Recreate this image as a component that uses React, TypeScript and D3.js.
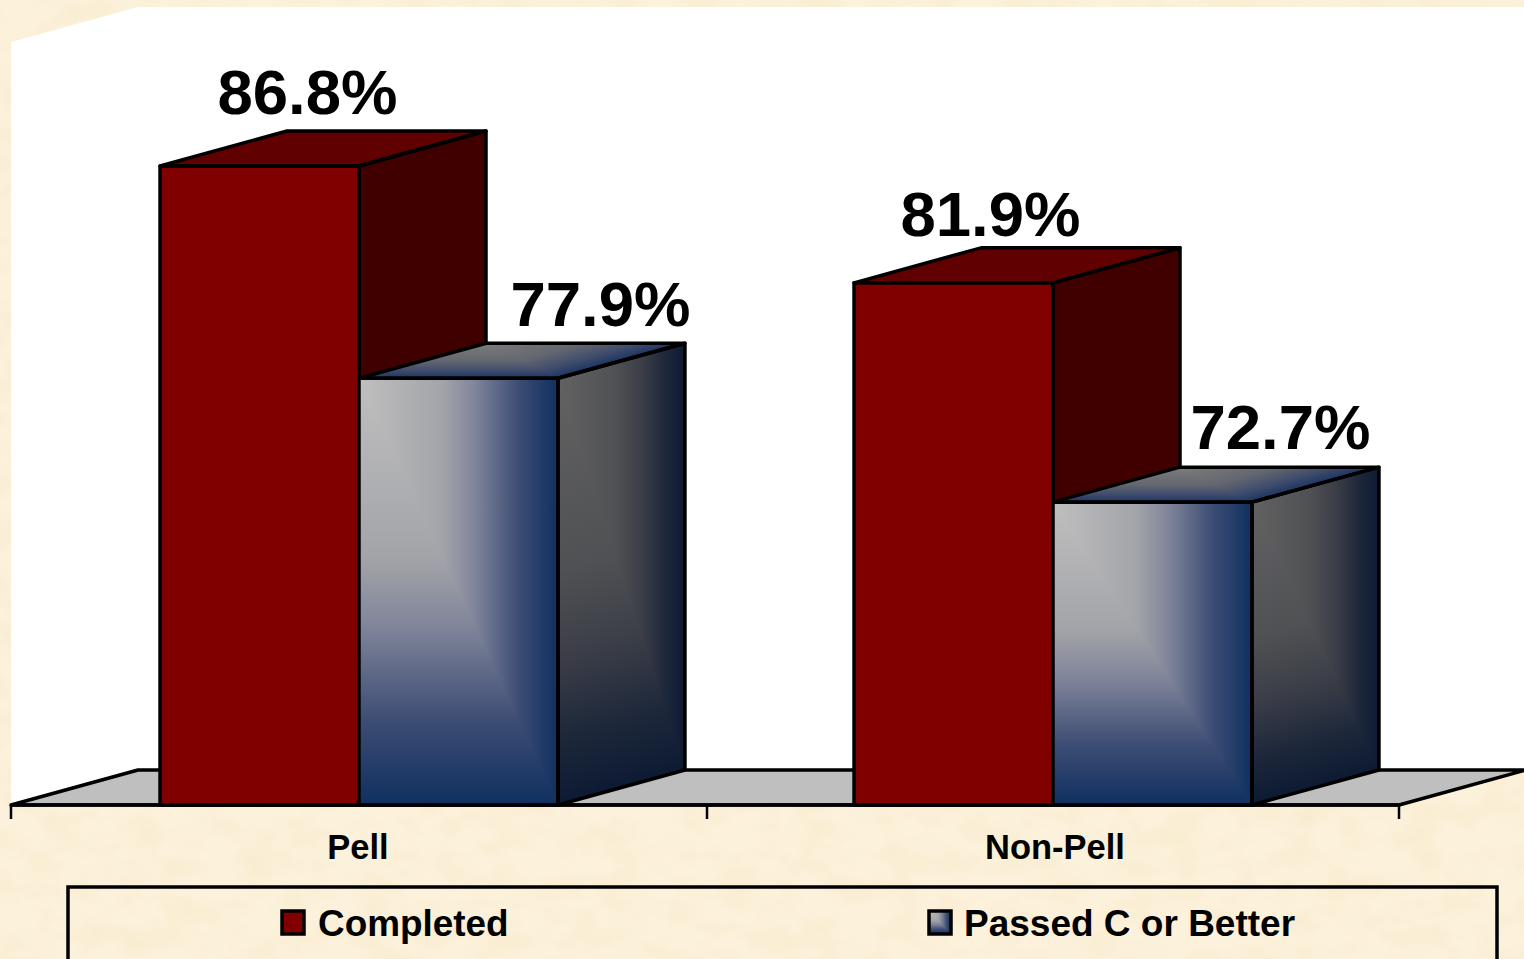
import * as d3 from 'd3';

const categories = ['Pell', 'Non-Pell'];
const seriesNames = ['Completed', 'Passed C or Better'];
const completed = [86.8, 81.9];
const passed = [77.9, 72.7];
const seriesValues = [completed, passed];

const width = 1524;
const height = 959;
const depthX = 127;
const depthY = -35;
const font = "'Liberation Sans', Arial, sans-serif";

// data labels were hand placed in the original, so they sit off the bar centre
const labelShift = [
  [48, 142],
  [37, 128],
];
const labelGap = [
  [52, 52],
  [47, 53],
];
const categoryShift = [-1, 2];

const x0 = d3.scaleBand<string>().domain(categories).range([12, 1400]);
const x1 = d3
  .scaleBand<string>()
  .domain(seriesNames)
  .range([0, x0.bandwidth()])
  .paddingOuter(0.744)
  .paddingInner(0);
const y = d3.scaleLinear().domain([60, 92]).range([805, 42]);
const tickX = d3.scaleLinear().domain([0, 1, 2]).range([11, 707, 1399]);

const baseY = y(60);
const topY = y(92);
const barWidth = x1.bandwidth();

const blueStops = [
  [0, '#bfbfbf'],
  [0.42, '#a3a4a9'],
  [0.58, '#80859a'],
  [0.8, '#3d4d74'],
  [1, '#0f3060'],
];
const sideStops = [
  [0, '#626262'],
  [0.45, '#505154'],
  [0.65, '#3c3f48'],
  [0.85, '#1d273a'],
  [1, '#0c1a33'],
];
const topStops = [
  [0, '#7c7c7c'],
  [0.5, '#646770'],
  [0.8, '#3c4a6c'],
  [1, '#1c3460'],
];

function Gradient({ id, stops, vertical }: { id: string; stops: (string | number)[][]; vertical: boolean }) {
  return (
    <linearGradient id={id} x1="0" y1="0" x2={vertical ? 0 : 1} y2={vertical ? 1 : 0}>
      {stops.map((s) => (
        <stop key={s[0]} offset={s[0]} stopColor={s[1] as string} />
      ))}
    </linearGradient>
  );
}

// unit square pushed through a matrix, so the fill's corner seam follows the face
function Face({ name, m }: { name: string; m: number[] }) {
  return (
    <g transform={`matrix(${m.join(' ')})`}>
      <rect width={1} height={1} fill={`url(#${name}-h)`} />
      <polygon points="0,0 1,1 0,1" fill={`url(#${name}-v)`} />
    </g>
  );
}

function Bar({ x, top, series }: { x: number; top: number; series: number }) {
  const h = baseY - top;
  const frontPts = [[x, top], [x + barWidth, top], [x + barWidth, baseY], [x, baseY]];
  const topPts = [[x, top], [x + depthX, top + depthY], [x + barWidth + depthX, top + depthY], [x + barWidth, top]];
  const sidePts = [[x + barWidth, top], [x + barWidth + depthX, top + depthY], [x + barWidth + depthX, baseY + depthY], [x + barWidth, baseY]];
  const line = d3.line();
  const outline = (pts: number[][]) => `${line(pts as [number, number][])}Z`;
  return (
    <g>
      {series === 0 ? (
        <>
          <path d={outline(frontPts)} fill="#800000" />
          <path d={outline(topPts)} fill="#600000" />
          <path d={outline(sidePts)} fill="#400000" />
        </>
      ) : (
        <>
          <Face name="blue" m={[barWidth, 0, 0, h, x, top]} />
          <Face name="top" m={[barWidth, 0, -depthX, -depthY, x + depthX, top + depthY]} />
          <Face name="side" m={[depthX, depthY, 0, h, x + barWidth, top]} />
        </>
      )}
      {[frontPts, topPts, sidePts].map((pts, i) => (
        <path key={i} d={outline(pts)} fill="none" stroke="#000" strokeWidth={3.5} strokeLinejoin="round" />
      ))}
    </g>
  );
}

export default function App() {
  const left = tickX(0);
  const right = tickX(2);

  return (
    <svg
      width={width}
      height={height}
      viewBox={`0 0 ${width} ${height}`}
      style={{ position: 'absolute', left: 0, top: 0, display: 'block' }}
    >
      <defs>
        <Gradient id="blue-h" stops={blueStops} vertical={false} />
        <Gradient id="blue-v" stops={blueStops} vertical={true} />
        <Gradient id="side-h" stops={sideStops} vertical={false} />
        <Gradient id="side-v" stops={sideStops} vertical={true} />
        <Gradient id="top-h" stops={topStops} vertical={false} />
        <Gradient id="top-v" stops={topStops} vertical={true} />
        <filter id="parchment" x="0" y="0" width="100%" height="100%">
          <feTurbulence type="fractalNoise" baseFrequency="0.025 0.04" numOctaves={3} seed={4} />
          <feColorMatrix
            type="matrix"
            values="0 0 0 0 0.93  0 0 0 0 0.82  0 0 0 0 0.6  0 0 0 1.3 -0.48"
          />
        </filter>
      </defs>

      <rect width={width} height={height} fill="#fcf1db" />
      <rect width={width} height={height} filter="url(#parchment)" />

      {/* walls */}
      <polygon
        points={`${left},${topY} ${left + depthX},${topY + depthY} ${width},${topY + depthY} ${width},${baseY + depthY} ${left + depthX},${baseY + depthY} ${left},${baseY}`}
        fill="#fff"
      />
      <polygon
        points={`${left},${baseY} ${left + depthX},${baseY + depthY} ${right + depthX},${baseY + depthY} ${right},${baseY}`}
        fill="#bfbfbf"
        stroke="#000"
        strokeWidth={3.5}
        strokeLinejoin="round"
      />

      {categories.map((c, i) =>
        seriesNames.map((s, j) => (
          <Bar key={s} x={(x0(c) ?? 0) + (x1(s) ?? 0)} top={y(seriesValues[j][i])} series={j} />
        ))
      )}

      {/* x axis */}
      <line x1={left} x2={right} y1={baseY} y2={baseY} stroke="#000" strokeWidth={3.5} />
      {[0, 1, 2].map((t) => (
        <line key={t} x1={tickX(t)} x2={tickX(t)} y1={baseY} y2={baseY + 14} stroke="#000" strokeWidth={2.5} />
      ))}
      {categories.map((c, i) => (
        <text
          key={c}
          x={(tickX(i) + tickX(i + 1)) / 2 + categoryShift[i]}
          y={859}
          textAnchor="middle"
          fontFamily={font}
          fontWeight="bold"
          fontSize={34.5}
          fill="#000"
        >
          {c}
        </text>
      ))}

      {/* value labels */}
      {categories.map((c, i) =>
        seriesNames.map((s, j) => (
          <text
            key={s}
            x={(x0(c) ?? 0) + (x1(s) ?? 0) + barWidth / 2 + labelShift[i][j]}
            y={y(seriesValues[j][i]) - labelGap[i][j]}
            textAnchor="middle"
            fontFamily={font}
            fontWeight="bold"
            fontSize={63.5}
            fill="#000"
          >
            {seriesValues[j][i].toFixed(1)}%
          </text>
        ))
      )}

      {/* legend, runs off the bottom of the picture */}
      <rect x={68} y={887} width={1429} height={100} fill="none" stroke="#000" strokeWidth={3.5} />
      <rect x={282} y={911} width={22} height={23} fill="#800000" stroke="#000" strokeWidth={3.5} />
      <text x={318} y={936} fontFamily={font} fontWeight="bold" fontSize={36.9} fill="#000">
        {seriesNames[0]}
      </text>
      <Face name="blue" m={[22, 0, 0, 23, 929, 911]} />
      <rect x={929} y={911} width={22} height={23} fill="none" stroke="#000" strokeWidth={3.5} />
      <text x={964} y={936} fontFamily={font} fontWeight="bold" fontSize={37} fill="#000">
        {seriesNames[1]}
      </text>
    </svg>
  );
}
